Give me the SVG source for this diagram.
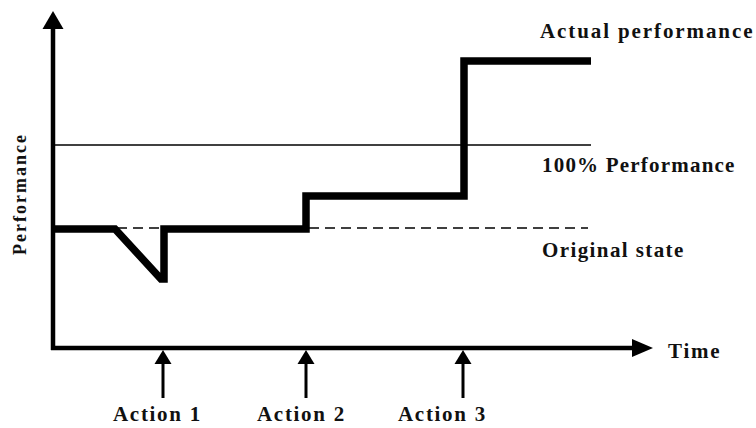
<svg xmlns="http://www.w3.org/2000/svg" width="756" height="428" viewBox="0 0 756 428">
<style>
text{font-family:"Liberation Serif","Times New Roman",serif;font-weight:bold;fill:#111;font-size:21px}
.axis{stroke:#000;stroke-width:4.5;fill:none}
.curve{stroke:#000;stroke-width:7.5;fill:none;stroke-linejoin:miter}
.ref{stroke:#000;stroke-width:1.5;fill:none}
.act{stroke:#000;stroke-width:3;fill:none}
</style>
<rect width="756" height="428" fill="#fff"/>
<g id="axes">
<line class="axis" x1="53" y1="350" x2="53" y2="28"/>
<polygon points="53,11 42.5,29 63.5,29" fill="#000"/>
<line class="axis" x1="51" y1="348" x2="634" y2="348"/>
<polygon points="653,348 632,339 632,357" fill="#000"/>
<text x="668" y="358" style="letter-spacing:1.8px">Time</text>
<text transform="translate(26,194) rotate(-90)" text-anchor="middle" style="font-size:18px;letter-spacing:2px">Performance</text>
</g>
<g id="reference-lines">
<line class="ref" x1="53" y1="145" x2="591" y2="145"/>
<line class="ref" x1="53" y1="228" x2="588" y2="228" stroke-dasharray="10,6"/>
</g>
<g id="actual-performance">
<path class="curve" d="M53,229 L115,229 L161,279 L164,279 L164,229 L306,229 L306,196 L464,196 L464,61 L591,61"/>
</g>
<g id="labels">
<text x="540" y="38" style="letter-spacing:1.9px">Actual performance</text>
<text x="542" y="172" style="letter-spacing:1.2px">100% Performance</text>
<text x="542" y="257" style="letter-spacing:1.4px">Original state</text>
</g>
<g id="connectors">
<g id="action1">
<line class="act" x1="163" y1="398" x2="163" y2="362"/>
<polygon points="163,350 154.5,364 171.5,364" fill="#000"/>
</g>
<g id="action2">
<line class="act" x1="306" y1="398" x2="306" y2="362"/>
<polygon points="306,350 297.5,364 314.5,364" fill="#000"/>
</g>
<g id="action3">
<line class="act" x1="463" y1="398" x2="463" y2="362"/>
<polygon points="463,350 454.5,364 471.5,364" fill="#000"/>
</g>
</g>
<g id="action-labels">
<text x="113" y="421" style="letter-spacing:1.7px">Action 1</text>
<text x="257" y="421" style="letter-spacing:1.7px">Action 2</text>
<text x="398" y="421" style="letter-spacing:1.7px">Action 3</text>
</g>
</svg>
